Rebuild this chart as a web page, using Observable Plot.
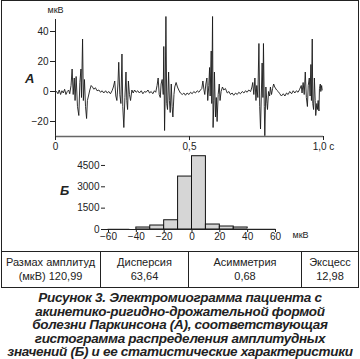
<!DOCTYPE html>
<html><head><meta charset="utf-8">
<script src="https://cdn.jsdelivr.net/npm/d3@7"></script>
<script src="https://cdn.jsdelivr.net/npm/@observablehq/plot@0.6"></script>
<style>
body{margin:0;background:#fff;}
#fig{position:relative;width:360px;height:359px;font-family:Arial,"Liberation Sans",sans-serif;color:#222;overflow:hidden;}
#box{position:absolute;left:1px;top:0px;width:356px;height:286px;border:1px solid #222;}
.abs{position:absolute;}
.lbl{position:absolute;font-weight:bold;font-style:italic;font-size:13px;color:#222;}
#tbl{position:absolute;left:1px;top:251px;width:357px;height:36px;border-top:1px solid #222;display:flex;}
#tbl div{box-sizing:border-box;height:36px;text-align:center;font-size:11px;line-height:13.5px;padding-top:4px;color:#222;}
#cap{position:absolute;left:0;top:291px;width:360px;text-align:center;font-weight:bold;font-style:italic;font-size:13.5px;line-height:13.6px;letter-spacing:-0.3px;white-space:nowrap;color:#222;}
</style></head>
<body>
<div id="fig">
  <div id="box"></div>
  <div id="emg" class="abs" style="left:0;top:0"></div>
  <div id="hist" class="abs" style="left:0;top:148px"></div>
  <div class="lbl" style="left:25px;top:71px">А</div>
  <div class="lbl" style="left:60px;top:183px">Б</div>
  <div id="tbl"></div>
  <div id="cap"></div>
</div>
<script>
// ЭМГ: время (с) и амплитуда (мкВ)
const emgTime = [0.004,0.009,0.014,0.019,0.024,0.029,0.034,0.039,0.044,0.049,0.053,
0.058,0.062,0.066,0.070,0.073,0.077,0.082,0.087,0.091,0.095,0.097,0.101,0.104,0.108,0.112,0.116,0.119,0.123,0.128,0.133,0.138,0.143,0.149,0.155,0.162,0.168,0.174,0.180,0.187,0.193,0.199,0.205,0.211,0.216,
0.221,0.225,0.229,0.233,0.236,0.240,0.244,0.248,0.251,0.255,0.259,0.263,0.266,0.269,0.272,0.276,0.280,0.285,0.290,0.295,0.301,0.307,0.313,0.320,0.326,0.332,0.338,0.345,0.351,0.357,0.363,0.369,0.374,
0.379,0.383,0.387,0.391,0.394,0.398,0.402,0.404,0.407,0.409,0.412,0.415,0.418,0.422,0.425,0.428,0.432,0.435,0.438,0.442,0.445,0.450,0.455,0.460,0.466,0.473,0.479,0.485,0.491,0.498,0.504,0.510,0.516,0.522,0.529,0.535,0.541,0.546,
0.550,0.554,0.557,0.561,0.565,0.568,0.572,0.575,0.577,0.581,0.583,0.586,0.588,0.591,0.593,0.597,0.600,0.603,0.607,0.611,0.614,0.618,0.623,0.628,0.634,0.641,0.647,0.653,0.659,0.665,0.672,0.678,0.684,0.690,0.697,0.703,0.709,0.715,0.721,0.728,
0.733,0.736,0.740,0.744,0.748,0.751,0.755,0.759,0.762,0.765,0.769,0.771,0.774,0.776,0.779,0.781,0.785,0.789,0.791,0.795,0.799,0.802,0.806,0.810,0.814,0.818,0.825,0.831,0.837,0.843,0.850,0.856,0.862,0.868,0.874,0.881,0.887,0.893,0.899,0.905,0.911,
0.917,0.920,0.924,0.928,0.932,0.936,0.940,0.943,0.947,0.950,0.953,0.955,0.958,0.960,0.963,0.966,0.969,0.971,0.975,0.978,0.980,0.983,0.985,0.988,0.990,0.993,0.995];
const emgValue = [0,-1.5,1,-2,0.5,-1,1.5,-2,0,1,-1.5,
4,15,-2,9,-6,10,-10,-16,6,15,-4,35,-6,8,-10,-18,-6,-3,1,4,3,1.5,2.5,0.5,1,-0.5,0.5,-1,0.5,-1,0,-1.5,0.5,3,
7,-3,-6,5,19.5,-2,-8,25,-10,-24,-4,13,-6,-12,7,-2,-6,1,-1,1,-0.5,0.5,-1,0.5,-1.5,0,-0.5,1,-1,0,-1.5,0.5,-0.5,
4,9,-2,-4,5,8,-2,30,-26,-5,50,-8,-12,13,-6,-14,5,-10,-17,-2,3,6,3,1,-1,-2,-1,-2.5,-1,-2,-0.5,-1.5,0,-1,0.5,-0.5,1,2,
7,1,-2,5,9,-6,4,16,-3,27,-8,50,-24,-6,13,-17,-4,-20,-2,5,-6,0,3,1,2,-1,0,-2,-1,-2.5,-1,-2,-0.5,-1.5,0,-1,0.5,-0.5,1,0,
3,6,-2,9,-6,4,-4,32,-10,-25,5,19,-4,32,-10,-29.5,3,-8,-12,0,-3,3,-2,2,5,3,1,0,-1.5,-3,-1.5,-3,-1,-2,0,-1.5,0.5,-1,0.5,-0.5,1.5,
4,-1,6,-2,13,-4,-10,4,9,-3,18,-6,35,-8,-12,9,-6,-16,-8,-12,-6,-13,2,5,0,4,1];
const emgYTicks = [-20, 0, 20, 40];
const emgXTicks = [0, 0.5, 1.0];
const emgXTickLabels = ["0", "0,5", "1,0 с"];

// Гистограмма
const binLo = [-60, -40, -30, -20, -10, 0, 10, 20, 30, 40];
const binHi = [-45, -30, -20, -10, 0, 10, 20, 30, 40, 60];
const binCount = [15, 140, 280, 650, 3720, 5150, 350, 210, 140, 15];
const histYTicks = [0, 1500, 3000, 4500];
const histXTicks = [-60, -40, -20, 0, 20, 40, 60];

// Таблица
const statNames = ["Размах амплитуд", "Дисперсия", "Асимметрия", "Эксцесс"];
const statValues = ["(мкВ) 120,99", "63,64", "0,68", "12,98"];

const captionLines = [
  "Рисунок 3. Электромиограмма пациента с",
  "акинетико-ригидно-дрожательной формой",
  "болезни Паркинсона (А), соответствующая",
  "гистограмма распределения амплитудных",
  "значений (Б) и ее статистические характеристики"
];

const font = 'Arial, "Liberation Sans", sans-serif';
const emg = emgTime.map((t, i) => ({t, v: emgValue[i]}));

const p1 = Plot.plot({
  width: 360, height: 155,
  marginTop: 19, marginBottom: 19, marginLeft: 55, marginRight: 37,
  style: {fontSize: "10px", fontFamily: font, color: "#222", background: "transparent", overflow: "visible"},
  x: {domain: [0, 1]},
  y: {domain: [-30, 48]},
  marks: [
    Plot.line(emg, {x: "t", y: "v", stroke: "#1a1a1a", strokeWidth: 0.9}),
    Plot.ruleX([0], {stroke: "#222", strokeWidth: 1}),
    Plot.ruleY([-30], {stroke: "#666", strokeWidth: 1.3}),
    Plot.axisY({ticks: emgYTicks, tickSize: 5, tickPadding: 2, label: null}),
    Plot.axisX({ticks: emgXTicks, tickSize: 4, tickPadding: 2, label: null,
      tickFormat: d => emgXTickLabels[emgXTicks.indexOf(d)]}),
    Plot.text(["мкВ"], {x: 0, y: 48, dy: -9, dx: 0, text: d => d, fontSize: 9})
  ]
});
document.getElementById("emg").appendChild(p1);

const hist = binLo.map((lo, i) => ({lo, hi: binHi[i], c: binCount[i]}));
const p2 = Plot.plot({
  width: 360, height: 100,
  marginTop: 7, marginBottom: 19, marginLeft: 105, marginRight: 85,
  style: {fontSize: "10px", fontFamily: font, color: "#222", background: "transparent", overflow: "visible"},
  x: {domain: [-60, 60], insetLeft: 3},
  y: {domain: [0, 5200]},
  marks: [
    Plot.rectY(hist.filter(d => d.c > 50), {x1: "lo", x2: "hi", y: "c", fill: "#d6d6d6", stroke: "#111", strokeWidth: 1, inset: 0}),
    Plot.rectY(hist.filter(d => d.c <= 50), {x1: "lo", x2: "hi", y: "c", fill: "#ccc", stroke: "#bbb", strokeWidth: 1, inset: 0}),
    Plot.ruleY([0], {stroke: "#222", strokeWidth: 1}),
    Plot.axisY({ticks: histYTicks, tickSize: 4, tickPadding: 2, label: null, tickFormat: d => String(d)}),
    Plot.axisX({ticks: histXTicks, tickSize: 3, tickPadding: 0, label: null}),
    Plot.text(["мкВ"], {x: 60, y: 0, dx: 25, dy: 6, text: d => d, fontSize: 9})
  ]
});
document.getElementById("hist").appendChild(p2);

const widths = [100, 88, 113, 56];
const tbl = document.getElementById("tbl");
statNames.forEach((n, i) => {
  const d = document.createElement("div");
  d.style.width = widths[i] + "px";
  if (i < statNames.length - 1) d.style.borderRight = "1px solid #222";
  d.innerHTML = n + "<br>" + statValues[i];
  tbl.appendChild(d);
});
document.getElementById("cap").innerHTML = captionLines.join("<br>");
</script>
</body></html>
